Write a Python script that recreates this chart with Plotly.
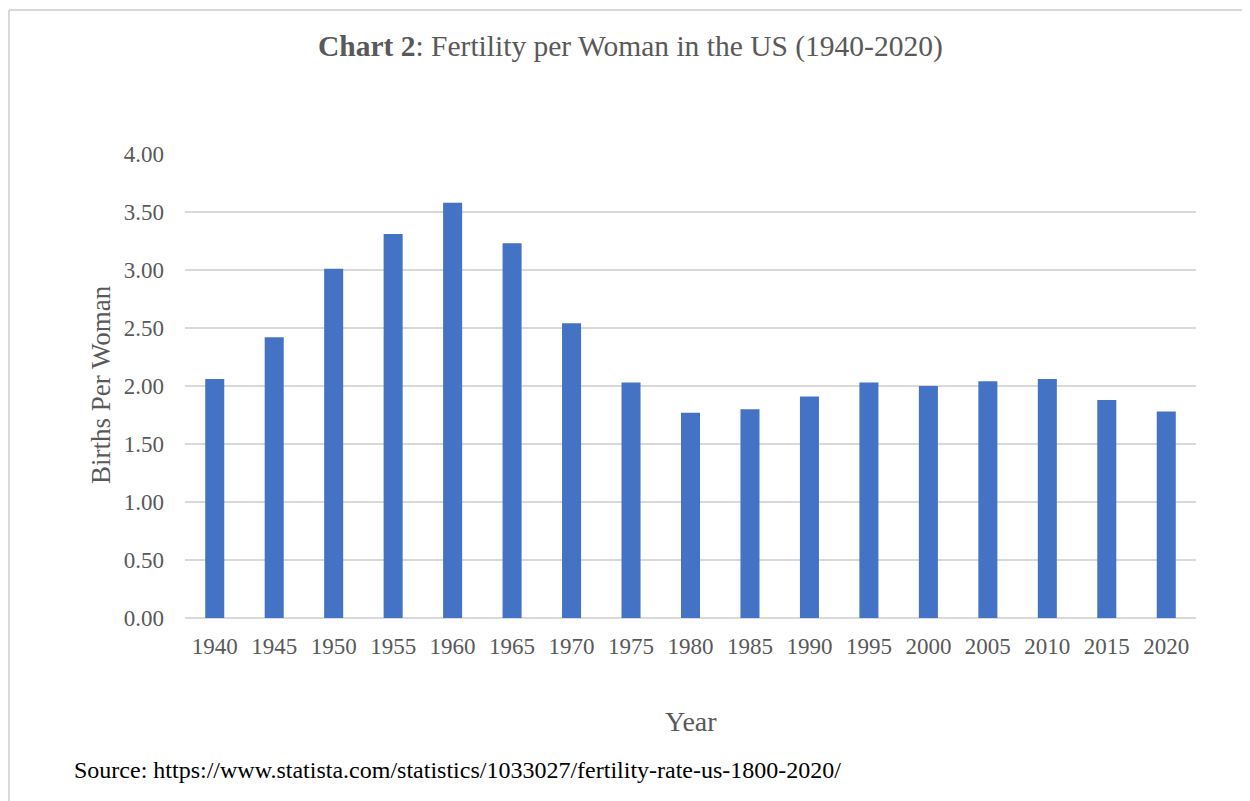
import plotly.graph_objects as go

years = ["1940", "1945", "1950", "1955", "1960", "1965", "1970", "1975", "1980",
         "1985", "1990", "1995", "2000", "2005", "2010", "2015", "2020"]
births_per_woman = [2.06, 2.42, 3.01, 3.31, 3.58, 3.23, 2.54, 2.03, 1.77,
                    1.80, 1.91, 2.03, 2.00, 2.04, 2.06, 1.88, 1.78]
y_ticks = [0, 0.5, 1.0, 1.5, 2.0, 2.5, 3.0, 3.5, 4.0]
y_tick_labels = ["0.00", "0.50", "1.00", "1.50", "2.00", "2.50", "3.00", "3.50", "4.00"]

FONT = "Liberation Serif, Times New Roman, serif"
TXT = "#595959"
GRID = "#d9d9d9"

# the page body adds an 8px margin; compensate so screenshot pixels match
OFF = 8
W, H = 1250 - OFF, 801 - OFF
L, T = 185 - OFF, 154 - OFF
pw, ph = 1011, 464
R, B = W - L - pw, H - T - ph

def px_x(p):
    return (p - OFF - L) / pw

def px_y(p):
    return (T + ph - (p - OFF)) / ph

fig = go.Figure(go.Bar(
    x=years, y=births_per_woman,
    marker=dict(color="#4472C4", line=dict(width=0)),
    width=0.32,
))

fig.update_layout(
    width=W, height=H,
    margin=dict(l=L, r=R, t=T, b=B),
    paper_bgcolor="white", plot_bgcolor="white",
    font=dict(family=FONT, color=TXT, size=20),
    showlegend=False,
    bargap=0.68,
    xaxis=dict(
        type="category", showgrid=False, showline=False, zeroline=False,
        tickfont=dict(size=23, color=TXT), ticks="", ticklabelstandoff=12,
    ),
    yaxis=dict(
        range=[0, 4], tickvals=y_ticks, ticktext=y_tick_labels,
        showgrid=True, gridcolor=GRID, gridwidth=1.5,
        zeroline=True, zerolinecolor=GRID, zerolinewidth=1.5,
        showline=False, ticks="", tickfont=dict(size=23, color=TXT),
        ticklabelstandoff=20,
    ),
    annotations=[
        dict(text="<b>Chart 2</b>: Fertility per Woman in the US (1940-2020)",
             xref="paper", yref="paper", x=px_x(630), y=px_y(47),
             xanchor="center", yanchor="middle", showarrow=False,
             font=dict(size=29.5, color=TXT, family=FONT)),
        dict(text="Births Per Woman", textangle=-90,
             xref="paper", yref="paper", x=px_x(101), y=px_y(385),
             xanchor="center", yanchor="middle", showarrow=False,
             font=dict(size=27, color=TXT, family=FONT)),
        dict(text="Year",
             xref="paper", yref="paper", x=px_x(691), y=px_y(721),
             xanchor="center", yanchor="middle", showarrow=False,
             font=dict(size=28, color=TXT, family=FONT)),
        dict(text="Source: https://www.statista.com/statistics/1033027/fertility-rate-us-1800-2020/",
             xref="paper", yref="paper", x=px_x(72), y=px_y(770),
             xanchor="left", yanchor="middle", showarrow=False,
             font=dict(size=24, color="#000000", family=FONT)),
    ],
    shapes=[
        dict(type="line", xref="paper", yref="paper",
             x0=px_x(9), x1=px_x(1260), y0=px_y(10), y1=px_y(10),
             line=dict(color=GRID, width=2)),
        dict(type="line", xref="paper", yref="paper",
             x0=px_x(9), x1=px_x(9), y0=px_y(10), y1=px_y(810),
             line=dict(color=GRID, width=2)),
    ],
)

fig.write_html("out.html")
